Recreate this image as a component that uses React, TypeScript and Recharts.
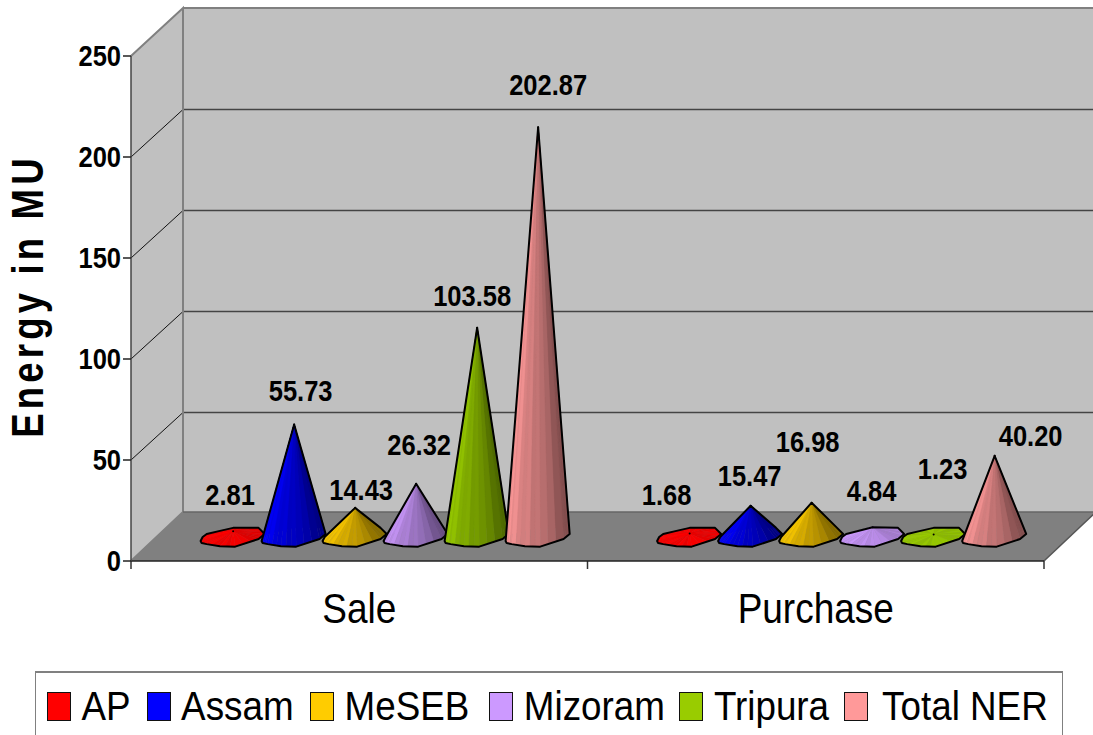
import { BarChart, Bar, XAxis, YAxis, Legend, LabelList, usePlotArea } from "recharts";

const categories = ["Sale", "Purchase"];
const seriesNames = ["AP", "Assam", "MeSEB", "Mizoram", "Tripura", "Total NER"];
const ap = [2.81, 1.68];
const assam = [55.73, 15.47];
const meseb = [14.43, 16.98];
const mizoram = [26.32, 4.84];
const tripura = [103.58, 1.23];
const totalNer = [202.87, 40.2];
const yTicks = [0, 50, 100, 150, 200, 250];
const colors = ["#ff0000", "#0000ff", "#ffcc00", "#cc99ff", "#99cc00", "#ff9999"];

const seriesValues = [ap, assam, meseb, mizoram, tripura, totalNer];
const data = categories.map((name, i) => {
  const row: any = { name };
  seriesNames.forEach((s, j) => {
    row[s] = seriesValues[j][i];
  });
  return row;
});

// the labels were dragged around by hand in the original, so each has its own nudge from the cone tip
const labelNudges: number[][][] = [
  [[-3, -36], [-23, -39]],
  [[6.5, -33], [-1, -30]],
  [[6, -18], [-4, -61]],
  [[3, -39], [-1, -36]],
  [[-5, -32], [9, -66]],
  [[10, -42], [36, -20]],
];

// legend spacing in the original is uneven too
const legendGaps = [0, 0, 0.5, 4, -1.5, -1];

const DEPTH_X = 52;
const DEPTH_Y = 49;
const CONE_SHIFT_X = 26;
const CONE_SHIFT_Y = 24;

// wobbly faceted base of the cones, relative to its centre, for a 60px wide bar
const baseOutline = [
  [-32, 4], [-30, 0], [-26, -3], [-13, -6], [0, -9], [25, -9], [31, -3],
  [25, 2], [2, 9.5], [-13, 9], [-26, 7], [-31, 6],
];

const shadeColor = (hex: string, f: number) => {
  const n = parseInt(hex.slice(1), 16);
  const r = Math.round(((n >> 16) & 255) * f);
  const g = Math.round(((n >> 8) & 255) * f);
  const b = Math.round((n & 255) * f);
  return `rgb(${r},${g},${b})`;
};

const hull = (pts: number[][]) => {
  const p = [...pts].sort((a, b) => a[0] - b[0] || a[1] - b[1]);
  const cross = (o: number[], a: number[], b: number[]) =>
    (a[0] - o[0]) * (b[1] - o[1]) - (a[1] - o[1]) * (b[0] - o[0]);
  const half = (list: number[][]) => {
    const out: number[][] = [];
    list.forEach((q) => {
      while (out.length > 1 && cross(out[out.length - 2], out[out.length - 1], q) <= 0) out.pop();
      out.push(q);
    });
    out.pop();
    return out;
  };
  return [...half(p), ...half([...p].reverse())];
};

const Cone = (props: any) => {
  const { x, y, width, height, fill } = props;
  const s = width / 60;
  const cx = x + width / 2 + CONE_SHIFT_X;
  const cy = y + height - CONE_SHIFT_Y;
  const apex = [cx, y - CONE_SHIFT_Y];
  const base = baseOutline.map(([dx, dy]) => [cx + dx * s, cy + dy * s]);

  const facets: { a: number[]; b: number[]; mx: number; my: number }[] = [];
  base.forEach((p, i) => {
    const q = base[(i + 1) % base.length];
    for (let k = 0; k < 3; k++) {
      const a = [p[0] + ((q[0] - p[0]) * k) / 3, p[1] + ((q[1] - p[1]) * k) / 3];
      const b = [p[0] + ((q[0] - p[0]) * (k + 1)) / 3, p[1] + ((q[1] - p[1]) * (k + 1)) / 3];
      facets.push({ a, b, mx: (a[0] + b[0]) / 2, my: (a[1] + b[1]) / 2 });
    }
  });
  facets.sort((u, v) => u.my - v.my);

  const k = Math.min(1, height / 30);
  const outline = hull([apex, ...base]).map((p) => p.join(",")).join(" ");

  return (
    <g>
      {facets.map((f, i) => {
        const t = (f.mx - cx + 32 * s) / (64 * s);
        const lit = (1 - k) + k * (1 - 0.48 * t);
        const c = shadeColor(fill, lit * (i % 2 ? 1 : 0.94));
        return (
          <polygon
            key={i}
            points={`${apex.join(",")} ${f.a.join(",")} ${f.b.join(",")}`}
            fill={c}
            stroke={c}
            strokeWidth={0.4}
          />
        );
      })}
      <polygon points={outline} fill="none" stroke="#000" strokeWidth={2} strokeLinejoin="round" />
      <circle cx={apex[0]} cy={apex[1]} r={1} fill="#000" />
    </g>
  );
};

const Walls = () => {
  const plot = usePlotArea();
  if (!plot) return null;
  const left = plot.x;
  const right = plot.x + plot.width;
  const top = plot.y;
  const bottom = plot.y + plot.height;
  const backL = left + DEPTH_X;
  const backR = right + DEPTH_X;
  const yOf = (t: number) => bottom - (t / 250) * plot.height;
  const band = plot.width / categories.length;

  return (
    <g>
      <polygon
        points={`${left},${top} ${backL},${top - DEPTH_Y + 1} ${backL},${bottom - DEPTH_Y} ${left},${bottom}`}
        fill="#c0c0c0"
      />
      <rect x={backL} y={top - DEPTH_Y + 1} width={plot.width} height={plot.height} fill="#c0c0c0" />
      <polygon
        points={`${left},${bottom} ${backL},${bottom - DEPTH_Y} ${backR},${bottom - DEPTH_Y} ${right},${bottom}`}
        fill="#808080"
      />
      {yTicks.slice(1, 5).map((t) => (
        <g key={t}>
          <line x1={left} y1={yOf(t)} x2={backL} y2={yOf(t) - DEPTH_Y + 1.5} stroke="#111" strokeWidth={1} />
          <line x1={backL} y1={yOf(t) - DEPTH_Y + 1.5} x2={backR} y2={yOf(t) - DEPTH_Y + 1.5} stroke="#444" strokeWidth={1.5} />
        </g>
      ))}
      <polyline
        points={`${left},${bottom} ${backL},${bottom - DEPTH_Y} ${backL},${top - DEPTH_Y + 1} ${left},${top}`}
        fill="none"
        stroke="#808080"
        strokeWidth={2}
      />
      <line x1={backL} y1={top - DEPTH_Y + 1} x2={backR} y2={top - DEPTH_Y + 1} stroke="#808080" strokeWidth={2} />
      <line x1={backL} y1={bottom - DEPTH_Y} x2={backR} y2={bottom - DEPTH_Y} stroke="#666" strokeWidth={1.5} />
      <line x1={right} y1={bottom} x2={backR} y2={bottom - DEPTH_Y} stroke="#555" strokeWidth={1.5} />
      {[0, 1, 2].map((i) => (
        <line key={i} x1={left + band * i} y1={bottom} x2={left + band * i} y2={bottom + 8} stroke="#333" strokeWidth={1.5} />
      ))}
      <text
        transform={`translate(43,296) rotate(-90) scale(1,1.2)`}
        textAnchor="middle"
        fontFamily="Liberation Sans"
        fontWeight="bold"
        fontSize={36.5}
        letterSpacing={4.2}
        fill="#000"
      >
        Energy in MU
      </text>
    </g>
  );
};

const YTick = ({ x, y, payload }: any) => (
  <text
    transform={`translate(${x},${y + 9.5}) scale(1,1.16)`}
    textAnchor="end"
    fontFamily="Liberation Sans"
    fontWeight="bold"
    fontSize={25.5}
    fill="#000"
  >
    {payload.value}
  </text>
);

const XTick = ({ x, y, payload }: any) => (
  <text
    transform={`translate(${x},${y + 54}) scale(1,1.17)`}
    textAnchor="middle"
    fontFamily="Liberation Sans"
    fontSize={37}
    fill="#000"
  >
    {payload.value}
  </text>
);

const valueLabel = (series: number) => (props: any) => {
  const { x, y, width, value, index } = props;
  const [dx, dy] = labelNudges[series][index];
  return (
    <text
      transform={`translate(${x + width / 2 + CONE_SHIFT_X + dx},${y - CONE_SHIFT_Y + dy + 10}) scale(1,1.16)`}
      textAnchor="middle"
      fontFamily="Liberation Sans"
      fontWeight="bold"
      fontSize={25.5}
      fill="#000"
    >
      {Number(value).toFixed(2)}
    </text>
  );
};

const LegendBox = ({ payload }: any) => (
  <div
    style={{
      boxSizing: "border-box",
      width: 1028,
      height: 72,
      border: "1px solid #808080",
      borderTopWidth: 2,
      background: "#fff",
      display: "flex",
      alignItems: "flex-start",
      paddingLeft: 11,
      paddingTop: 11,
      fontFamily: "Liberation Sans",
      fontSize: 36.8,
      color: "#000",
    }}
  >
    {(payload || []).map((item: any, i: number) => (
      <div key={item.value} style={{ display: "flex", alignItems: "center", marginRight: 16, marginLeft: legendGaps[i] }}>
        <span
          style={{
            display: "inline-block",
            boxSizing: "border-box",
            width: 24,
            height: 29,
            background: item.color,
            border: "1.5px solid #111",
            marginRight: i === 5 ? 14 : 10.5,
          }}
        />
        <span style={{ display: "inline-block", transform: "translateY(1px) scaleY(1.12)", lineHeight: "44px", whiteSpace: "nowrap" }}>
          {item.value}
        </span>
      </div>
    ))}
  </div>
);

export default function App() {
  return (
    <div style={{ position: "absolute", left: 0, top: 0, width: 1093, height: 735, overflow: "hidden", background: "#fff" }}>
      <BarChart
        width={1093}
        height={735}
        data={data}
        margin={{ top: 56, right: 49, bottom: 114, left: 0 }}
        barGap={0}
        barCategoryGap="10%"
      >
        <Walls />
        <XAxis
          dataKey="name"
          height={60}
          tick={<XTick />}
          tickLine={false}
          axisLine={{ stroke: "#222", strokeWidth: 1.5 }}
        />
        <YAxis
          width={131}
          domain={[0, 250]}
          ticks={yTicks}
          tick={<YTick />}
          tickSize={8}
          tickLine={{ stroke: "#222", strokeWidth: 1.5 }}
          axisLine={{ stroke: "#444", strokeWidth: 1.5 }}
          interval={0}
        />
        <Legend
          layout="horizontal"
          verticalAlign="middle"
          align="center"
          itemSorter={null}
          content={<LegendBox />}
          wrapperStyle={{ left: 35, top: 671, width: 1028, height: 72 }}
        />
        {seriesNames.map((s, i) => (
          <Bar key={s} dataKey={s} name={s} fill={colors[i]} shape={<Cone />} isAnimationActive={false}>
            <LabelList dataKey={s} content={valueLabel(i)} />
          </Bar>
        ))}
      </BarChart>
    </div>
  );
}
